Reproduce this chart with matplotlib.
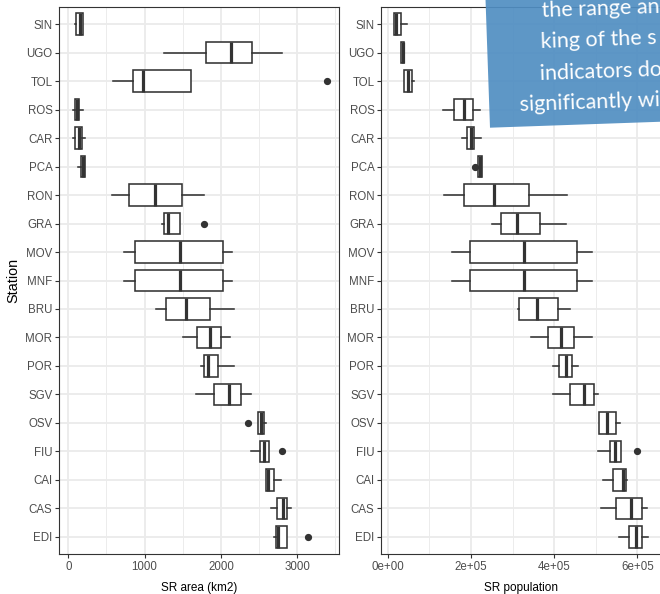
#!/usr/bin/env python3
# -*- coding: utf-8 -*-
import matplotlib
matplotlib.use("Agg")
import matplotlib.pyplot as plt
from matplotlib.patches import Polygon
import numpy as np

# stanice zhora dole
stations = ['SIN', 'UGO', 'TOL', 'ROS', 'CAR', 'PCA', 'RON', 'GRA', 'MOV', 'MNF',
            'BRU', 'MOR', 'POR', 'SGV', 'OSV', 'FIU', 'CAI', 'CAS', 'EDI']

# SR area (km2)
area_whislo = [92, 1257, 581, 57, 62, 123, 568, 1224, 726, 726,
               1154, 1503, 1735, 1674, 2482, 2399, 2591, 2653, 2700]
area_q1 = [105, 1805, 843, 84, 92, 166, 800, 1254, 874, 874,
           1280, 1691, 1783, 1905, 2482, 2508, 2591, 2739, 2718]
area_med = [150, 2137, 975, 114, 136, 193, 1136, 1311, 1464, 1464,
            1538, 1853, 1831, 2110, 2526, 2569, 2621, 2810, 2752]
area_q3 = [197, 2407, 1608, 144, 180, 223, 1494, 1464, 2031, 2031,
           1861, 2002, 1958, 2268, 2569, 2635, 2696, 2870, 2866]
area_whishi = [197, 2805, 1608, 189, 223, 223, 1779, 1464, 2150, 2150,
               2176, 2124, 2167, 2390, 2587, 2635, 2788, 2915, 2866]
area_fliers = {'TOL': [3386], 'GRA': [1779], 'OSV': [2359], 'FIU': [2805], 'EDI': [3142]}

# SR population
pop_whislo = [15144, 31970, 39900, 133650, 177880, 216340, 136060, 250720, 154560, 154560,
              313940, 345190, 396630, 396630, 508650, 505530, 518270, 512740, 556730]
pop_q1 = [15144, 31970, 39900, 159375, 191350, 216340, 184130, 273080, 197840, 197840,
          316340, 386060, 411770, 438220, 508650, 534360, 542290, 548070, 579330]
pop_med = [20700, 35600, 49500, 182690, 199510, 221150, 254800, 311540, 328370, 328370,
           358890, 416580, 429320, 472600, 526430, 547100, 564890, 584130, 596150]
pop_q3 = [31170, 39180, 57690, 204300, 206730, 225960, 339660, 365380, 455770, 455770,
          410100, 448560, 443740, 495910, 548790, 561530, 572100, 610570, 611300]
pop_whishi = [45673, 39180, 62500, 221870, 223550, 225960, 430280, 429320, 490380, 490380,
              438940, 491100, 458170, 504800, 559130, 561530, 575950, 624040, 626440]
pop_fliers = {'PCA': [209860], 'FIU': [599990]}

area_ticks = [0, 1000, 2000, 3000]
area_minor = [500, 1500, 2500, 3500]
pop_ticks = [0, 200000, 400000, 600000]
pop_tick_labels = ['0e+00', '2e+05', '4e+05', '6e+05']
pop_minor = [100000, 300000, 500000]

note_lines = ['the range and', 'king of the s', 'indicators do', 'significantly wi']

W, H = 660, 594
DARK = '#333333'
GRID = '#EBEBEB'
TXT = '#4D4D4D'
FONT = 'Liberation Sans'


def make_stats(lo, q1, med, q3, hi, fliers):
    stats = []
    for i, s in enumerate(stations):
        stats.append({'whislo': lo[i], 'q1': q1[i], 'med': med[i], 'q3': q3[i],
                      'whishi': hi[i], 'fliers': fliers.get(s, [])})
    return stats


def panel(ax, stats, xlim, ticks, labels, minor, xlabel_x, xlabel):
    pos = np.arange(len(stations))
    ax.bxp(stats, positions=pos, widths=0.75, orientation='horizontal',
           showcaps=False, patch_artist=True,
           boxprops=dict(facecolor='white', edgecolor=DARK, linewidth=1.15),
           whiskerprops=dict(color=DARK, linewidth=1.15),
           medianprops=dict(color=DARK, linewidth=2.3, solid_capstyle='butt'),
           flierprops=dict(marker='o', markerfacecolor=DARK, markeredgecolor=DARK,
                           markersize=4.2))
    ax.set_xlim(*xlim)
    ax.set_ylim(len(stations) - 0.4, -0.6)
    ax.set_xticks(ticks)
    ax.set_xticklabels(labels)
    ax.set_xticks(minor, minor=True)
    ax.set_yticks(pos)
    ax.set_yticklabels(stations)
    ax.tick_params(which='minor', length=0)
    ax.tick_params(which='major', length=2.9, width=0.8, color=DARK,
                   labelcolor=TXT, labelsize=8.3, pad=2.0)
    ax.grid(which='major', color=GRID, linewidth=1.3)
    ax.grid(which='minor', axis='x', color=GRID, linewidth=0.65)
    ax.set_axisbelow(True)
    for sp in ax.spines.values():
        sp.set_color(DARK)
        sp.set_linewidth(0.8)
    for lab in ax.get_xticklabels() + ax.get_yticklabels():
        lab.set_family(FONT)
    fig = ax.figure
    fig.text(xlabel_x / W, 1 - 588 / H, xlabel, ha='center', va='center',
             fontsize=8.5, family=FONT, color='black')


def plot_stat(fig_location='out.png'):
    fig = plt.figure(figsize=(W / 100, H / 100), dpi=100)

    # lavy panel
    ax1 = fig.add_axes([59.3 / W, 1 - 554 / H, (339 - 59.3) / W, (554 - 7) / H])
    panel(ax1, make_stats(area_whislo, area_q1, area_med, area_q3, area_whishi, area_fliers),
          (-118, 3548), area_ticks, [str(t) for t in area_ticks], area_minor,
          199.2, 'SR area (km2)')

    # pravy panel, orezany pravym okrajom
    ax2 = fig.add_axes([381.3 / W, 1 - 554 / H, (661.5 - 381.3) / W, (554 - 7) / H])
    panel(ax2, make_stats(pop_whislo, pop_q1, pop_med, pop_q3, pop_whishi, pop_fliers),
          (-15385, (661.5 - 387.7) * 2403.8), pop_ticks, pop_tick_labels, pop_minor,
          521, 'SR population')

    fig.text(13 / W, 1 - 280.5 / H, 'Station', rotation=90, ha='center', va='center',
             fontsize=10.4, family=FONT, color='black')

    # modra poznamka hore vpravo
    ov = fig.add_axes([0, 0, 1, 1], zorder=10)
    ov.set_xlim(0, W)
    ov.set_ylim(H, 0)
    ov.axis('off')
    ang = np.deg2rad(2.0)
    bl = np.array([490.0, 127.7])
    along = np.array([np.cos(ang), -np.sin(ang)])
    up = np.array([-np.sin(ang), -np.cos(ang)])
    corners = [bl, bl + up * 170, bl + up * 170 + along * 240, bl + along * 240]
    ov.add_patch(Polygon(corners, closed=True, facecolor='#508EC2', alpha=0.92,
                         edgecolor='none'))
    starts = [(542, 17), (541, 48), (540, 80), (520, 111)]
    for (x, y), line in zip(starts, note_lines):
        ov.text(x, y, line, rotation=2, rotation_mode='anchor', ha='left',
                va='baseline', color='white', fontsize=15.5, family='Lato')

    fig.savefig(fig_location, dpi=100)


if __name__ == '__main__':
    plot_stat('out.png')
